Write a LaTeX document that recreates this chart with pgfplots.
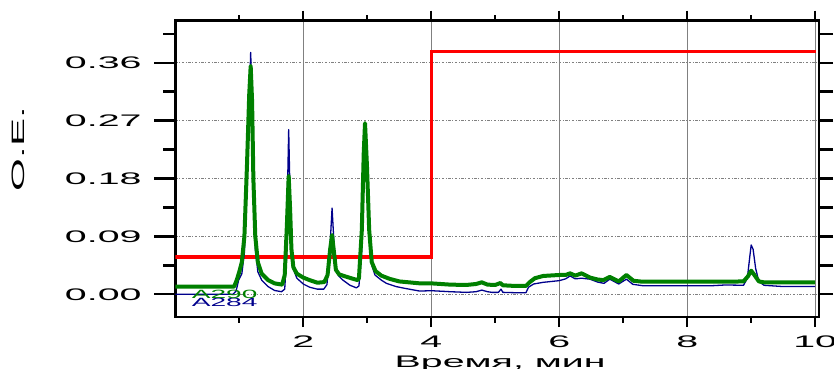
\documentclass[border=0pt]{standalone}
\usepackage{fontspec}
\setmainfont{Liberation Sans}
\newfontfamily\wide[FakeStretch=2.35]{Liberation Sans}
\usepackage{pgfplots}
\pgfplotsset{compat=1.18}
\definecolor{cgreen}{RGB}{0,128,0}
\definecolor{cnavy}{RGB}{0,0,140}
\definecolor{cred}{RGB}{255,0,0}
\newcommand\tl{\wide\fontsize{16.8}{20}\selectfont}
\pgfplotsset{
  base/.style={scale only axis, width=643.7bp, height=296.3bp,
    xmin=0, xmax=10.06, ymin=-0.0353, ymax=0.4253,
    at={(175.3bp,52bp)}, anchor=south west, tick align=outside,
    axis line style={line width=2.6bp, line cap=rect},
    tick style={black, line width=2.4bp}},
}
\pgfplotstableread{
x y
0 0.0
0.90 0.0
0.95 0.005
0.99 0.022
1.04 0.032
1.08 0.065
1.12 0.17
1.15 0.28
1.178 0.376
1.20 0.30
1.22 0.16
1.25 0.07
1.29 0.035
1.35 0.022
1.45 0.012
1.55 0.006
1.66 0.004
1.71 0.008
1.74 0.06
1.755 0.17
1.772 0.256
1.79 0.17
1.81 0.08
1.84 0.04
1.90 0.025
2.00 0.016
2.10 0.011
2.22 0.008
2.32 0.008
2.37 0.015
2.41 0.06
2.45 0.134
2.48 0.08
2.51 0.04
2.55 0.029
2.62 0.022
2.73 0.014
2.83 0.010
2.87 0.013
2.91 0.06
2.94 0.16
2.965 0.265
2.995 0.19
3.03 0.09
3.07 0.045
3.12 0.030
3.22 0.022
3.30 0.017
3.45 0.012
3.60 0.009
3.82 0.005
4.00 0.0056
4.30 0.004
4.55 0.003
4.70 0.004
4.79 0.0065
4.88 0.004
4.95 0.003
5.05 0.003
5.09 0.008
5.12 0.003
5.30 0.0025
5.48 0.0025
5.52 0.011
5.60 0.016
5.75 0.0186
6.00 0.0212
6.10 0.024
6.17 0.0285
6.25 0.024
6.35 0.025
6.48 0.0235
6.60 0.019
6.70 0.017
6.79 0.0235
6.93 0.016
7.05 0.0235
7.15 0.0155
7.30 0.0134
8.00 0.0134
8.40 0.0134
8.60 0.0145
8.88 0.0140
8.94 0.025
8.98 0.06
9.00 0.0766
9.03 0.07
9.07 0.04
9.12 0.02
9.20 0.014
9.50 0.012
10.0 0.012
}\blue
\pgfplotstableread{
x y
0 0.012
0.92 0.012
0.96 0.022
1.00 0.035
1.04 0.05
1.08 0.09
1.12 0.2
1.155 0.31
1.178 0.355
1.20 0.3
1.22 0.18
1.25 0.09
1.29 0.05
1.35 0.032
1.45 0.022
1.55 0.017
1.67 0.015
1.71 0.03
1.745 0.11
1.772 0.184
1.795 0.13
1.815 0.07
1.845 0.042
1.90 0.032
2.00 0.026
2.10 0.022
2.22 0.018
2.33 0.019
2.38 0.03
2.42 0.07
2.45 0.092
2.48 0.065
2.51 0.038
2.56 0.031
2.65 0.028
2.78 0.024
2.85 0.022
2.87 0.025
2.915 0.1
2.945 0.22
2.965 0.266
2.995 0.2
3.03 0.1
3.07 0.05
3.13 0.036
3.22 0.029
3.35 0.024
3.50 0.020
3.82 0.017
4.00 0.017
4.30 0.015
4.55 0.0145
4.70 0.016
4.79 0.0186
4.88 0.015
5.00 0.0145
5.08 0.0175
5.12 0.014
5.30 0.013
5.48 0.013
5.54 0.019
5.62 0.025
5.75 0.0285
6.00 0.030
6.10 0.030
6.17 0.0326
6.25 0.029
6.35 0.0326
6.48 0.026
6.60 0.023
6.69 0.022
6.79 0.027
6.93 0.020
7.05 0.030
7.16 0.021
7.30 0.0196
8.00 0.0196
8.60 0.0196
8.88 0.020
8.95 0.028
9.00 0.0367
9.05 0.03
9.12 0.02
9.20 0.0186
10.0 0.0186
}\green
\begin{document}
\begin{tikzpicture}
\useasboundingbox (0,0) rectangle (834bp,369bp);
% x grid + x tick labels + xlabel
\begin{axis}[base, ytick=\empty, xtick={2,4,6,8,10}, xticklabels={2,4,6,8,10},
  major tick length=0pt, minor tick length=0pt,
  xmajorgrids, major grid style={gray, line width=0.8bp},
  xticklabel style={font=\tl, inner sep=0pt, anchor=north, yshift=-19bp},
  xlabel={Время, мин},
  xlabel style={at={(axis description cs:0.5,0)}, anchor=base, yshift=-50.7bp, xshift=3bp, font=\tl, inner sep=0pt}]
\end{axis}
% y grid + y tick labels + ylabel
\begin{axis}[base, xtick=\empty, ytick={0,0.09,0.18,0.27,0.36}, yticklabels={0.00,0.09,0.18,0.27,0.36},
  major tick length=0pt, minor tick length=0pt,
  ymajorgrids, major grid style={gray, line width=0.8bp, dash pattern=on 2.5bp off 1.5bp on 1bp off 1.5bp},
  yticklabel style={font=\tl, inner sep=0pt, anchor=east, xshift=-33.6bp},
  ylabel={О.Е.},
  ylabel style={at={(axis description cs:-0.2444,0.567)}, anchor=center, font=\wide\fontsize{18}{20}\selectfont, inner sep=0pt}]
\end{axis}
% x ticks (top and bottom)
\begin{axis}[base, ytick=\empty, xtick={2,4,6,8,10}, minor xtick={1,3,5,7,9}, xticklabels={},
  xtick pos=both, major tick length=10bp, minor tick length=5.5bp]
\end{axis}
% left y ticks
\begin{axis}[base, xtick=\empty, ytick={0,0.09,0.18,0.27,0.36}, minor ytick={0.045,0.135,0.225,0.315,0.405}, yticklabels={},
  ytick pos=left, major tick length=21bp, minor tick length=12bp]
\end{axis}
% right y ticks
\begin{axis}[base, xtick=\empty, ytick={0,0.09,0.18,0.27,0.36}, minor ytick={0.045,0.135,0.225,0.315,0.405}, yticklabels={},
  ytick pos=right, major tick length=14bp, minor tick length=14bp]
\end{axis}
% data
\begin{axis}[base, hide axis]
\addplot[cred, line width=3.2bp, line join=miter] coordinates {(0,0.058) (4,0.058) (4,0.378) (10.02,0.378)};
\addplot[cnavy, line width=1.3bp, line join=round] table[x=x,y=y] {\blue};
\addplot[cgreen, line width=4bp, line join=round] table[x=x,y=y] {\green};
\node[anchor=base west, inner sep=0pt, text=cnavy, font=\wide\fontsize{12}{14}\selectfont] at (axis cs:0.256,-0.0193) {A284};
\node[anchor=base west, inner sep=0pt, text=cgreen, font=\wide\fontsize{12}{14}\selectfont] at (axis cs:0.256,-0.0058) {A290};
\end{axis}
\end{tikzpicture}
\end{document}
